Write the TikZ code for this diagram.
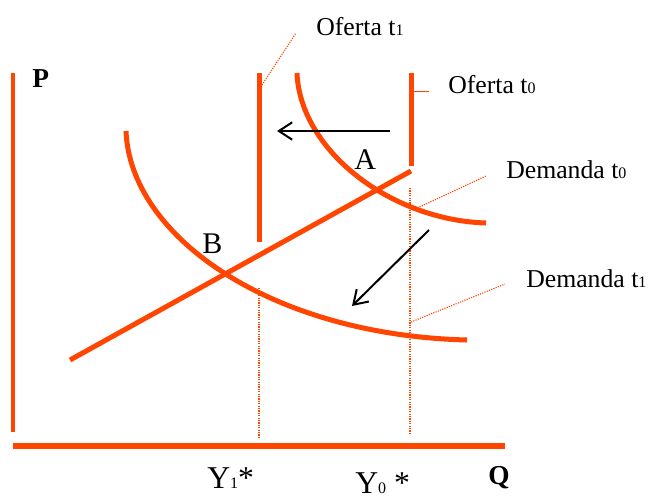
\documentclass[tikz,border=0pt]{standalone}
\usepackage{fontspec}
\setmainfont{Liberation Serif}
\usetikzlibrary{arrows.meta}

\definecolor{curveorange}{RGB}{255,69,0}
\newcommand{\tsub}[1]{{\fontsize{12}{12}\selectfont #1}}

\begin{document}
\begin{tikzpicture}[
    x=0.75pt, y=-0.75pt,
    axis/.style={draw=curveorange, line width=3.4pt},
    curve/.style={draw=curveorange, line width=3.75pt},
    leader/.style={draw=curveorange, line width=0.8pt, dash pattern=on 0.9pt off 0.9pt},
    shiftarrow/.style={draw=black, line width=1.5pt, -{Straight Barb[length=10pt,width=13pt,line width=1.5pt]}},
    lbl/.style={anchor=base west, inner sep=0pt, font=\fontsize{19.3}{22}\selectfont},
    eqlbl/.style={anchor=base west, inner sep=0pt, font=\fontsize{22.5}{26}\selectfont},
    axlbl/.style={anchor=base west, inner sep=0pt, font=\fontsize{20.5}{23}\selectfont\bfseries},
    ylbl/.style={anchor=base west, inner sep=0pt, font=\fontsize{23.8}{27}\selectfont},
  ]
    \useasboundingbox (0,0) rectangle (652,500);

    % ===== Axes =====
    \coordinate (ptop) at (13,73);
    \coordinate (orig) at (13,446);
    \coordinate (qend) at (505,446);
    \draw[axis] (ptop) -- (13,432);
    \draw[axis, line width=4pt] (orig) -- (qend);
    \node[axlbl] (plab) at (32,87) {P};
    \node[axlbl] (qlab) at (488,484) {Q};

    % ===== Supply (vertical) and rising line =====
    \coordinate (s1top) at (259,73);
    \coordinate (s1bot) at (259,242);
    \coordinate (s0top) at (411,73);
    \coordinate (s0bot) at (411,166);
    \draw[curve] (s1top) -- (s1bot);
    \draw[curve] (s0top) -- (s0bot);
    \coordinate (lmlow) at (70,360);
    \coordinate (lmhigh) at (411,171);
    \draw[curve] (lmlow) -- (lmhigh);

    % ===== Demand curves =====
    \coordinate (d0a) at (297,73);
    \coordinate (d0b) at (486,223);
    \draw[curve] (d0a) .. controls (300,150) and (390,220) .. (d0b);
    \coordinate (d1a) at (126,131);
    \coordinate (d1b) at (467,340);
    \draw[curve] (d1a) .. controls (130,236) and (270,335) .. (d1b);

    % ===== Equilibrium guides =====
    \draw[leader] (259,288) -- (259,438);
    \draw[leader] (410,188) -- (410,435);

    % ===== Shift arrows =====
    \coordinate (hfrom) at (390,131);
    \coordinate (hto) at (277,131);
    \draw[shiftarrow] (hfrom) -- (hto);
    \coordinate (dfrom) at (429,230);
    \coordinate (dto) at (352,306);
    \draw[shiftarrow] (dfrom) -- (dto);

    % ===== Labels =====
    \node[lbl] (ofe1) at (316,35) {Oferta t\tsub{1}};
    \node[lbl] (ofe0) at (448,93) {Oferta t\tsub{0}};
    \node[lbl] (dem0) at (506,178) {Demanda t\tsub{0}};
    \node[lbl] (dem1) at (526,287) {Demanda t\tsub{1}};
    \node[eqlbl] (eqa) at (354,169) {A};
    \node[eqlbl] (eqb) at (202,253) {B};
    \node[ylbl] (yone) at (207,488) {Y\tsub{1}*};
    \node[ylbl] (yzero) at (355,493) {Y\tsub{0} *};

    % ===== Leaders to labels =====
    \coordinate (l1a) at (262,85);
    \coordinate (l1b) at (296,33);
    \draw[leader] (l1a) -- (l1b);
    \coordinate (l0a) at (414,91);
    \coordinate (l0b) at (429,91);
    \draw[curveorange, line width=0.75pt] (l0a) -- (l0b);
    \coordinate (ld0a) at (413,210);
    \coordinate (ld0b) at (486,176);
    \draw[leader] (ld0a) -- (ld0b);
    \coordinate (ld1a) at (411,322);
    \coordinate (ld1b) at (505,284);
    \draw[leader] (ld1a) -- (ld1b);
\end{tikzpicture}
\end{document}
